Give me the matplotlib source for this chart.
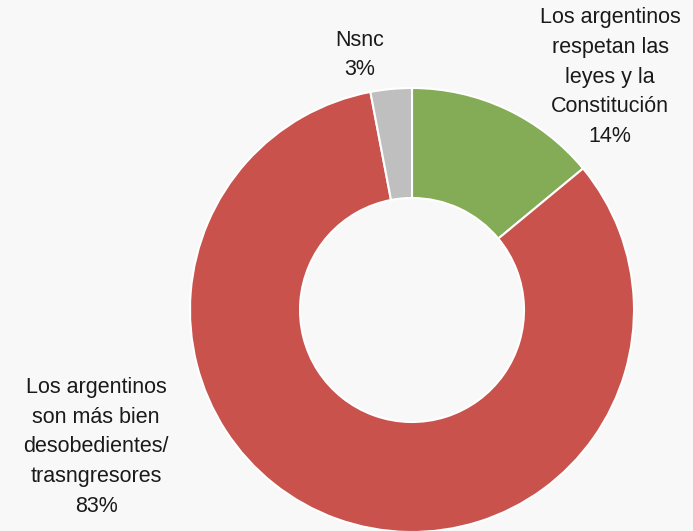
import matplotlib
matplotlib.use("Agg")
import matplotlib.pyplot as plt

categories = [
    "Los argentinos\nrespetan las\nleyes y la\nConstitución",
    "Los argentinos\nson más bien\ndesobedientes/\ntrasngresores",
    "Nsnc",
]
values = [14, 83, 3]
colors = ["#84AC56", "#C9524D", "#BFBFBF"]

plt.rcParams["font.family"] = ["Liberation Sans", "DejaVu Sans"]

fig = plt.figure(figsize=(6.93, 5.31), dpi=100, facecolor="#F8F8F8")
ax = fig.add_axes([0, 0, 1, 1])
ax.set_facecolor("#F8F8F8")
ax.axis("off")

ax.pie(values, colors=colors, startangle=90, counterclock=False,
       center=(412, 221), radius=222,
       wedgeprops=dict(width=110, edgecolor="white", linewidth=1.5))
ax.set_xlim(0, 693)
ax.set_ylim(0, 531)
ax.set_aspect("equal")

label_pos = [(610, 454), (96, 84), (360, 476)]
for cat, val, (x, y) in zip(categories, values, label_pos):
    ax.text(x, y, f"{cat}\n{val}%", ha="center", va="center",
            fontsize=15.5, linespacing=1.55, color="#1A1A1A")

fig.savefig("out.png", dpi=100, facecolor=fig.get_facecolor())
